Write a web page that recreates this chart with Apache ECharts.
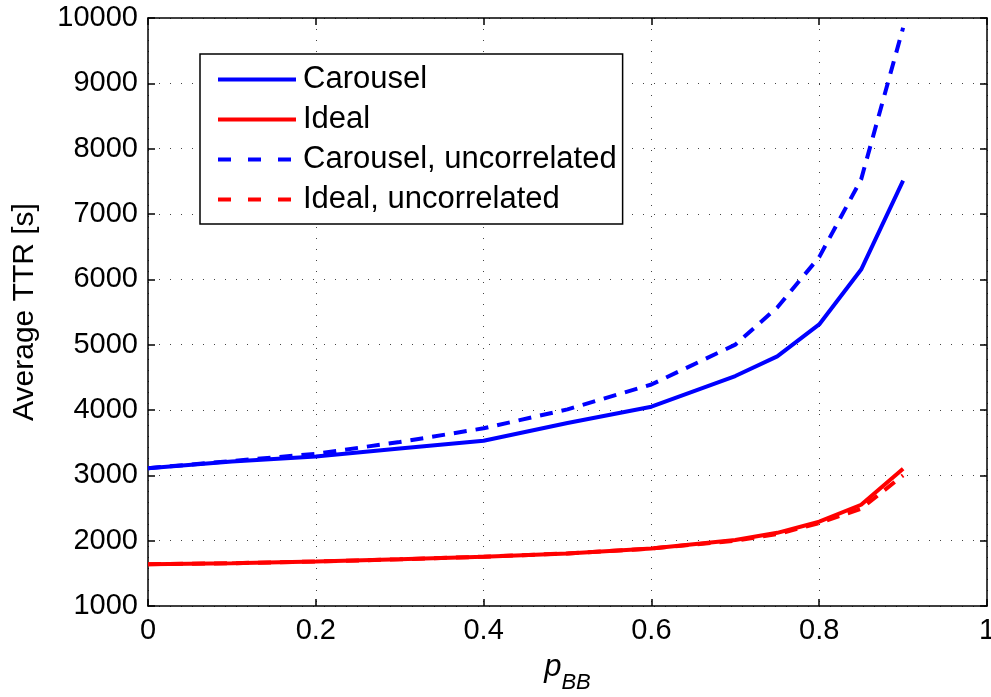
<!DOCTYPE html>
<html>
<head>
<meta charset="utf-8">
<script src="https://cdn.jsdelivr.net/npm/echarts@6/dist/echarts.min.js"></script>
<style>html,body{margin:0;padding:0;background:#fff;}#c{width:991px;height:697px;}</style>
</head>
<body>
<div id="c"></div>
<script>
const pBB = [0, 0.1, 0.2, 0.3, 0.4, 0.5, 0.6, 0.7, 0.75, 0.8, 0.85, 0.9];
const carousel = [3110, 3210, 3290, 3410, 3530, 3800, 4050, 4520, 4820, 5310, 6150, 7510];
const ideal = [1640, 1655, 1680, 1715, 1755, 1805, 1880, 2010, 2120, 2290, 2550, 3100];
const carouselUnc = [3110, 3220, 3330, 3510, 3720, 4010, 4390, 5000, 5570, 6340, 7530, 9850];
const idealUnc = [1640, 1655, 1680, 1715, 1755, 1805, 1880, 2000, 2100, 2270, 2490, 3000];
const xTicks = [0, 0.2, 0.4, 0.6, 0.8, 1];
const yTicks = [1000, 2000, 3000, 4000, 5000, 6000, 7000, 8000, 9000, 10000];
const names = ['Carousel', 'Ideal', 'Carousel, uncorrelated', 'Ideal, uncorrelated'];

const font = 'Liberation Sans, Arial, Helvetica, sans-serif';
const FS = 29;
const pair = (xs, ys) => xs.map((x, i) => [x, ys[i]]);
const chart = echarts.init(document.getElementById('c'), null, {renderer: 'canvas'});
const splitDot = {show: true, lineStyle: {color: '#444', width: 1, type: [1, 10]}};
const axLine = {show: true, onZero: false, lineStyle: {color: '#000', width: 1.5}};
const axTick = {show: true, inside: true, length: 7, lineStyle: {color: '#000', width: 1.5}};
chart.setOption({
  animation: false,
  backgroundColor: '#fff',
  textStyle: {fontFamily: font},
  grid: {left: 148, right: 4, top: 18, bottom: 91, containLabel: false, outerBoundsMode: 'none'},
  legend: {
    orient: 'vertical', left: 200, top: 54,
    backgroundColor: '#fff', borderColor: '#000', borderWidth: 1.5,
    padding: [10, 6, 9, 16],
    itemWidth: 78, itemHeight: 28, itemGap: 9,
    itemStyle: {opacity: 0},
    lineStyle: {width: 4},
    textStyle: {fontSize: 31, color: '#000', fontFamily: font, padding: [0, 0, 0, 2]},
    data: [
      {name: names[0]},
      {name: names[1]},
      {name: names[2], lineStyle: {width: 4, type: [13, 17]}},
      {name: names[3], lineStyle: {width: 4, type: [13, 17]}}
    ]
  },
  xAxis: [{
    type: 'value', min: 0, max: 1, interval: 0.2, position: 'bottom',
    axisLine: axLine, axisTick: axTick,
    axisLabel: {fontSize: FS, color: '#000', margin: 10, fontFamily: font,
      formatter: v => xTicks.includes(+v.toFixed(1)) ? String(+v.toFixed(1)) : ''},
    splitLine: splitDot,
    name: '{p|p}{s|BB}', nameLocation: 'middle', nameGap: 46,
    nameTextStyle: {rich: {
      p: {fontSize: 31, lineHeight: 31, fontStyle: 'italic', color: '#000', fontFamily: font, verticalAlign: 'top'},
      s: {fontSize: 22, lineHeight: 31, fontStyle: 'italic', color: '#000', fontFamily: font, verticalAlign: 'top', padding: [20, 0, 0, 0]}
    }}
  }, {
    type: 'value', min: 0, max: 1, interval: 0.2, position: 'top',
    axisLine: axLine, axisTick: axTick,
    axisLabel: {show: false}, splitLine: {show: false}
  }],
  yAxis: [{
    type: 'value', min: 1000, max: 10000, interval: 1000, position: 'left',
    axisLine: axLine, axisTick: axTick,
    axisLabel: {fontSize: FS, color: '#000', margin: 10, fontFamily: font, formatter: v => String(v)},
    splitLine: splitDot,
    name: 'Average TTR [s]', nameLocation: 'middle', nameGap: 108, nameRotate: 90,
    nameTextStyle: {fontSize: 30, color: '#000', fontFamily: font}
  }, {
    type: 'value', min: 1000, max: 10000, interval: 1000, position: 'right',
    axisLine: axLine, axisTick: axTick,
    axisLabel: {show: false}, splitLine: {show: false}
  }],
  series: [
    {name: names[0], type: 'line', data: pair(pBB, carousel), symbol: 'none', color: '#0000ff',
      lineStyle: {color: '#0000ff', width: 4}},
    {name: names[1], type: 'line', data: pair(pBB, ideal), symbol: 'none', color: '#ff0000',
      lineStyle: {color: '#ff0000', width: 4}},
    {name: names[2], type: 'line', data: pair(pBB, carouselUnc), symbol: 'none', color: '#0000ff',
      lineStyle: {color: '#0000ff', width: 4, type: [13, 9]}},
    {name: names[3], type: 'line', data: pair(pBB, idealUnc), symbol: 'none', color: '#ff0000',
      lineStyle: {color: '#ff0000', width: 4, type: [13, 9]}}
  ]
});
</script>
</body>
</html>
